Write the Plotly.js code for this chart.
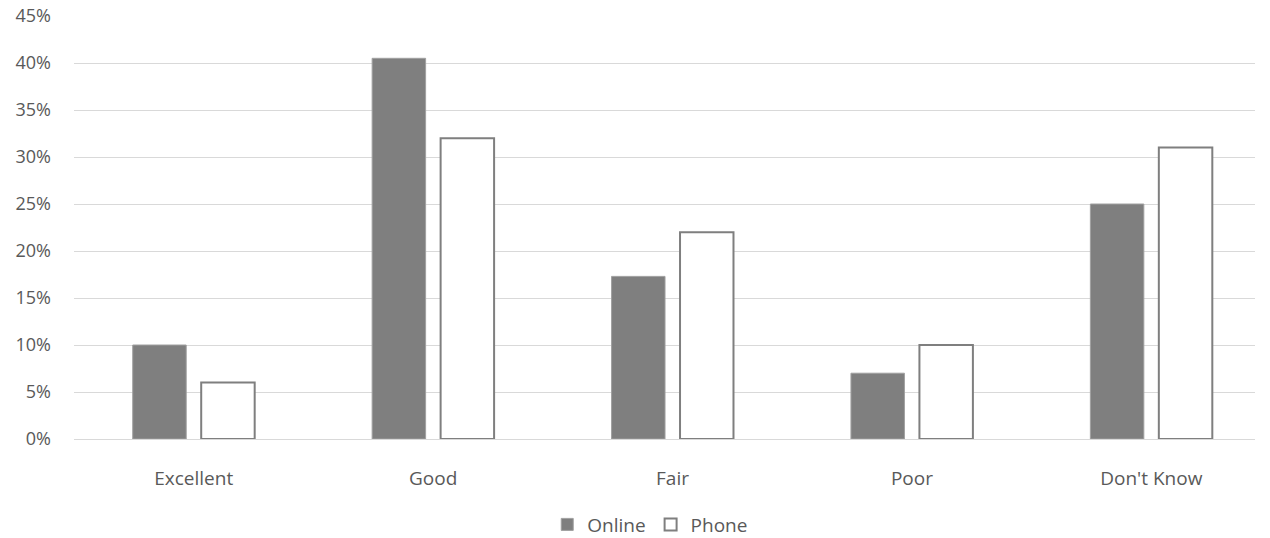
<!DOCTYPE html>
<html><head><meta charset="utf-8">
<script src="https://cdn.plot.ly/plotly-3.0.1.min.js"></script>
<style>body{margin:0;background:#fff}#c{width:1270px;height:538px}</style>
</head><body><div id="c"></div>
<script>
const categories = ["Excellent", "Good", "Fair", "Poor", "Don't Know"];
const online = [0.10, 0.405, 0.173, 0.07, 0.25];
const phone = [0.06, 0.32, 0.22, 0.10, 0.31];
const yTicks = [0,0.05,0.10,0.15,0.20,0.25,0.30,0.35,0.40,0.45];
const yTickText = ["0%","5%","10%","15%","20%","25%","30%","35%","40%","45%"];

const font = {family: "Open Sans, Liberation Sans, sans-serif", size: 18, color: "#595959"};
const xfont = {family: "Open Sans, Liberation Sans, sans-serif", size: 19, color: "#595959"};
Plotly.newPlot("c", [
  {type:"bar", name:"Online", x:categories, y:online, marker:{color:"#7f7f7f", line:{color:"#a0a0a0", width:1}}},
  {type:"bar", name:"Phone", x:categories, y:phone, marker:{color:"#ffffff", line:{color:"#7f7f7f", width:2}}}
], {
  width:1270, height:538,
  margin:{l:74, r:15, t:16, b:99},
  barmode:"group", bargap:0.428, bargroupgap:0.219,
  font:font,
  paper_bgcolor:"#fff", plot_bgcolor:"#fff",
  xaxis:{showgrid:false, showline:true, linecolor:"#d9d9d9", linewidth:1, ticks:"", tickfont:xfont, ticklabelstandoff:22, range:[-0.5, 4.433], automargin:false},
  yaxis:{range:[0,0.45], tickvals:yTicks, ticktext:yTickText, gridcolor:"#d9d9d9", gridwidth:1, zeroline:false, showline:false, ticks:"", tickfont:font, ticklabelstandoff:22, automargin:false},
  legend:{orientation:"h", x:0.512, xanchor:"center", xref:"container", y:0.025, yanchor:"middle", yref:"container", font:xfont, itemwidth:30, traceorder:"normal"},
  showlegend:true
}, {displayModeBar:false});
</script></body></html>
